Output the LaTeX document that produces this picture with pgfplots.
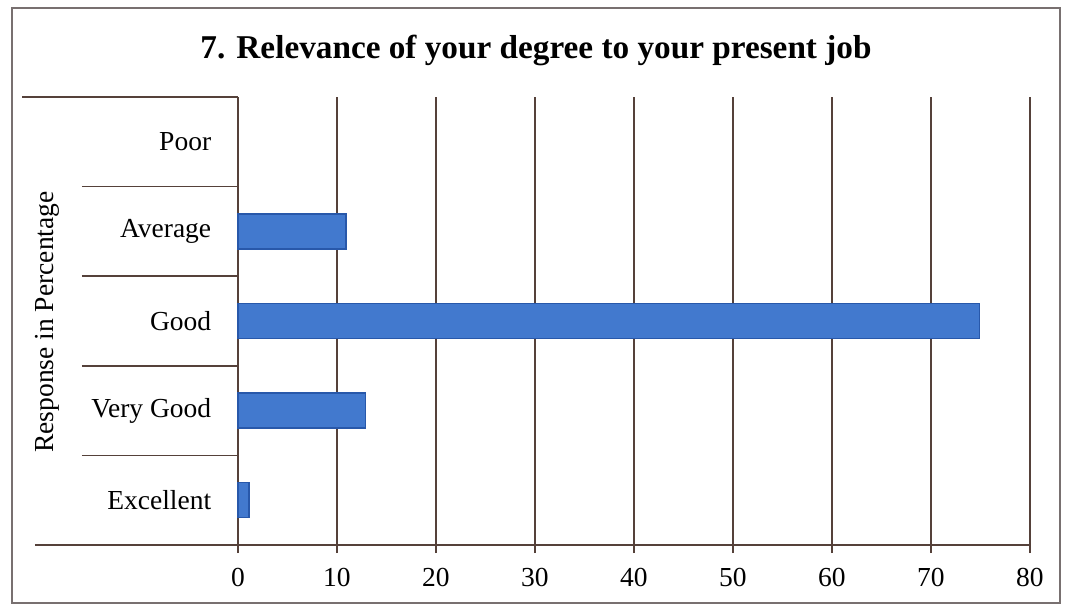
\documentclass[border=0pt]{standalone}
\usepackage{fontspec}
\setmainfont{Liberation Serif}
\usepackage{pgfplots}
\pgfplotsset{compat=1.18}
\definecolor{barfill}{RGB}{66,121,206}
\definecolor{baredge}{RGB}{40,88,170}
\definecolor{gridcol}{RGB}{85,65,58}
\definecolor{framecol}{RGB}{120,112,112}
\begin{document}
\begin{tikzpicture}
\useasboundingbox (-95.2pt,-26.8pt) rectangle (333.6pt,218pt);
\draw[framecol, line width=0.6pt] (-90.4pt,-23.2pt) rectangle (328.8pt,214.8pt);
\begin{axis}[
  at={(0,0)}, anchor=south west,
  scale only axis,
  width=316.8pt, height=179.2pt,
  xmin=0, xmax=80, ymin=-0.5, ymax=4.5,
  axis x line*=bottom, axis y line*=left,
  axis line style={gridcol, line width=0.6pt, -},
  x axis line style={shorten <=-81.2pt},
  xtick={0,10,...,80},
  ytick={0,1,2,3,4},
  yticklabels={Excellent,Very Good,Good,Average,Poor},
  minor ytick={0.5,1.5,2.5,3.5},
  tick align=outside,
  major tick length=3.2pt,
  minor tick length=62.4pt,
  major x tick style={gridcol, line width=0.6pt},
  major y tick style={draw=none},
  every minor y tick/.append style={draw=gridcol, line width=0.6pt},
  xmajorgrids,
  grid style={gridcol, line width=0.6pt},
  tick label style={font=\fontsize{11}{13}\selectfont},
  /pgf/number format/assume math mode=true,
  xticklabel style={yshift=-2.5pt},
  yticklabel style={xshift=-4pt},
  clip=false,
]
% Excellent, Very Good, Good, Average (Poor = 0, no bar)
\addplot[xbar, bar width=14pt, fill=barfill, draw=baredge, line width=0.5pt]
  coordinates {(1.1,0) (12.9,1) (74.9,2) (10.9,3)};
\draw[gridcol, line width=0.6pt] (axis cs:0,4.5) -- ([xshift=-86.4pt]axis cs:0,4.5);
\end{axis}
\node[anchor=base, font=\bfseries\fontsize{13.3}{15}\selectfont] at (119.2pt,194.8pt) {7. Relevance of your degree to your present job};
\node[rotate=90, font=\fontsize{11}{13}\selectfont] at (-76.4pt,89.2pt) {Response in Percentage};
\end{tikzpicture}
\end{document}
